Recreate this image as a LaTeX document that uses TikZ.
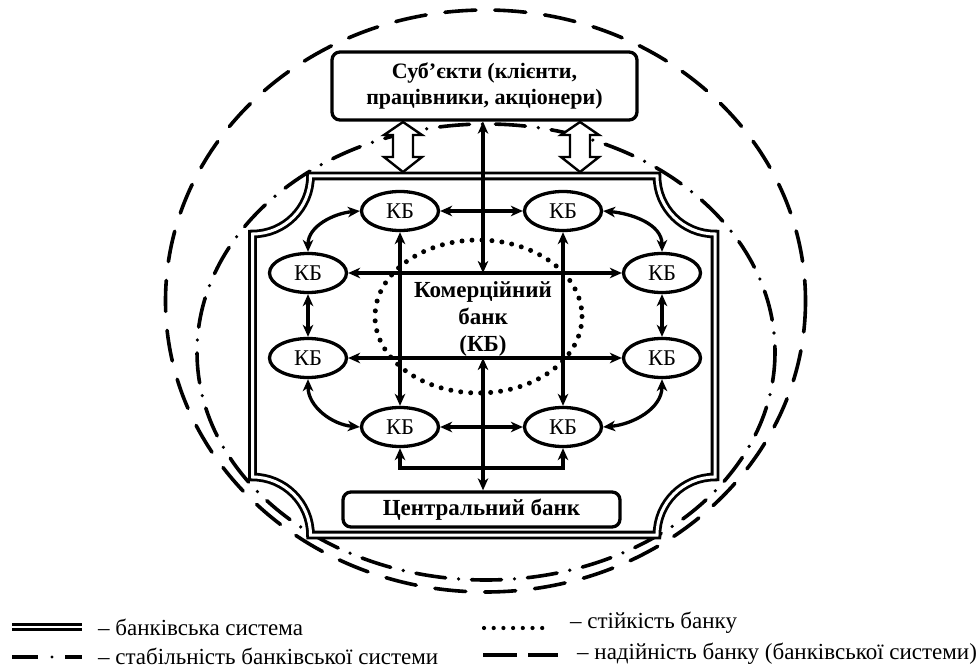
\documentclass[tikz,border=0pt]{standalone}
\usepackage{fontspec}
\setmainfont{Liberation Serif}
\usetikzlibrary{shapes.geometric,arrows.meta}
\begin{document}
\begin{tikzpicture}[x=1pt,y=-1pt,
  kb/.style={ellipse, draw, line width=3.3pt, minimum width=77pt, minimum height=39pt, inner sep=0pt, font=\fontsize{22.5}{22.5}\selectfont},
  arr/.style={line width=3.3pt, {Stealth[length=12pt,width=10.5pt,inset=3.5pt]}-{Stealth[length=12pt,width=10.5pt,inset=3.5pt]}},
  bankbox/.style={draw, line width=3.3pt, rounded corners=8pt, align=center, inner sep=0pt},
  blockarrow/.style={draw, fill=white, line width=2.4pt, line join=miter},
  framestyle/.style={double, line width=2.8pt, double distance=3pt},
  reliab/.style={line width=3.6pt, line cap=round, dash pattern=on 31pt off 19pt},
  stabil/.style={line width=3.6pt, line cap=round, dash pattern=on 30pt off 13pt on 0pt off 13pt},
  stiyk/.style={line width=5pt, line cap=round, dash pattern=on 0pt off 10pt},
  legtext/.style={anchor=west, font=\fontsize{23}{23}\selectfont, inner sep=0pt}
]
\useasboundingbox (0,0) rectangle (976,668);

% reliability (dashed) and stability (dash-dot) ellipses
\draw[reliab] (485.5,301) ellipse [x radius=320, y radius=291];
\draw[stabil] (486,352) ellipse [x radius=289, y radius=228];
% bank stability (dotted)
\draw[stiyk] (478.5,316.5) ellipse [x radius=103.5, y radius=76.5];

% banking system frame
\draw[framestyle] (310.5,176) -- (657,176)
  .. controls (657,208) and (683,234) .. (715,234)
  -- (715,477)
  .. controls (683,477) and (657,503) .. (657,535)
  -- (310.5,535)
  .. controls (310.5,503) and (284.5,477) .. (252.5,477)
  -- (252.5,234)
  .. controls (284.5,234) and (310.5,208) .. (310.5,176) -- cycle;

% top and bottom boxes
\node[bankbox, minimum width=305pt, minimum height=68pt, font=\bfseries\fontsize{22}{26}\selectfont] (subj) at (484.5,86)
  {Суб’єкти (клієнти,\\працівники, акціонери)};
\node[bankbox, minimum width=277pt, minimum height=35pt, font=\bfseries\fontsize{23}{23}\selectfont] (cb) at (481.5,509.5)
  {Центральний банк};

% hollow block arrows
\draw[blockarrow] (403,122) -- (422,135) -- (413,135) -- (413,157) -- (422,157) -- (403,172)
  -- (384,157) -- (393,157) -- (393,135) -- (384,135) -- cycle;
\draw[blockarrow] (580,122) -- (599,135) -- (590,135) -- (590,157) -- (599,157) -- (580,172)
  -- (561,157) -- (570,157) -- (570,135) -- (561,135) -- cycle;

% commercial banks
\node[kb] (k1) at (400,211) {КБ};
\node[kb] (k2) at (563,211) {КБ};
\node[kb] (k3) at (308,273) {КБ};
\node[kb] (k4) at (662,273) {КБ};
\node[kb] (k5) at (308,358) {КБ};
\node[kb] (k6) at (662,358) {КБ};
\node[kb] (k7) at (400,427) {КБ};
\node[kb] (k8) at (563,427) {КБ};

\node[align=center, font=\bfseries\fontsize{23}{27}\selectfont, inner sep=0pt] (kbt) at (483,319)
  {Комерційний\\банк\\(КБ)};

% connectors between banks
\draw[arr] (k1) -- (k2);
\draw[arr] (k7) -- (k8);
\draw[arr] (k3) -- (k4);
\draw[arr] (k5) -- (k6);
\draw[arr] (k1) -- (k7);
\draw[arr] (k2) -- (k8);
\draw[arr] (k3) -- (k5);
\draw[arr] (k4) -- (k6);
\draw[arr] (k1.west) to[out=185,in=90] (k3.north);
\draw[arr] (k2.east) to[out=-5,in=90] (k4.north);
\draw[arr] (k5.south) to[out=-90,in=175] (k7.west);
\draw[arr] (k6.south) to[out=-90,in=5] (k8.east);
\coordinate (bl) at (400,468);
\coordinate (br) at (563,468);
\draw[arr] (k7.south) -- (bl) -- (br) -- (k8.south);

% central vertical links
\coordinate (hu) at (483,273);
\coordinate (hd) at (483,358);
\draw[arr] (hu |- subj.south) -- (hu);
\draw[arr] (hd) -- (hd |- cb.north);

% legend
\coordinate (l1a) at (12,627); \coordinate (l1b) at (82,627);
\draw[double, line width=2.8pt, double distance=2.4pt] (l1a) -- (l1b);
\node[legtext] (t1) at (98,627) {– банківська система};

\coordinate (l2a) at (12,657); \coordinate (l2b) at (38,657);
\coordinate (l2c) at (65,657); \coordinate (l2d) at (82,657);
\draw[line width=3.8pt] (l2a) -- (l2b);
\fill (52,657) circle [radius=1.7pt];
\draw[line width=3.8pt] (l2c) -- (l2d);
\node[legtext] (t2) at (98,656) {– стабільність банківської системи};

\foreach \i in {0,...,6} \fill (484+\i*9.7,628) circle [radius=2.1pt];
\node[legtext] (t3) at (570,623) {– стійкість банку};

\coordinate (l4a) at (483,655); \coordinate (l4b) at (517,655);
\coordinate (l4c) at (528,655); \coordinate (l4d) at (558,655);
\draw[line width=3.8pt] (l4a) -- (l4b);
\draw[line width=3.8pt] (l4c) -- (l4d);
\node[legtext] (t4) at (577,654) {– надійність банку (банківської системи)};
\end{tikzpicture}
\end{document}
